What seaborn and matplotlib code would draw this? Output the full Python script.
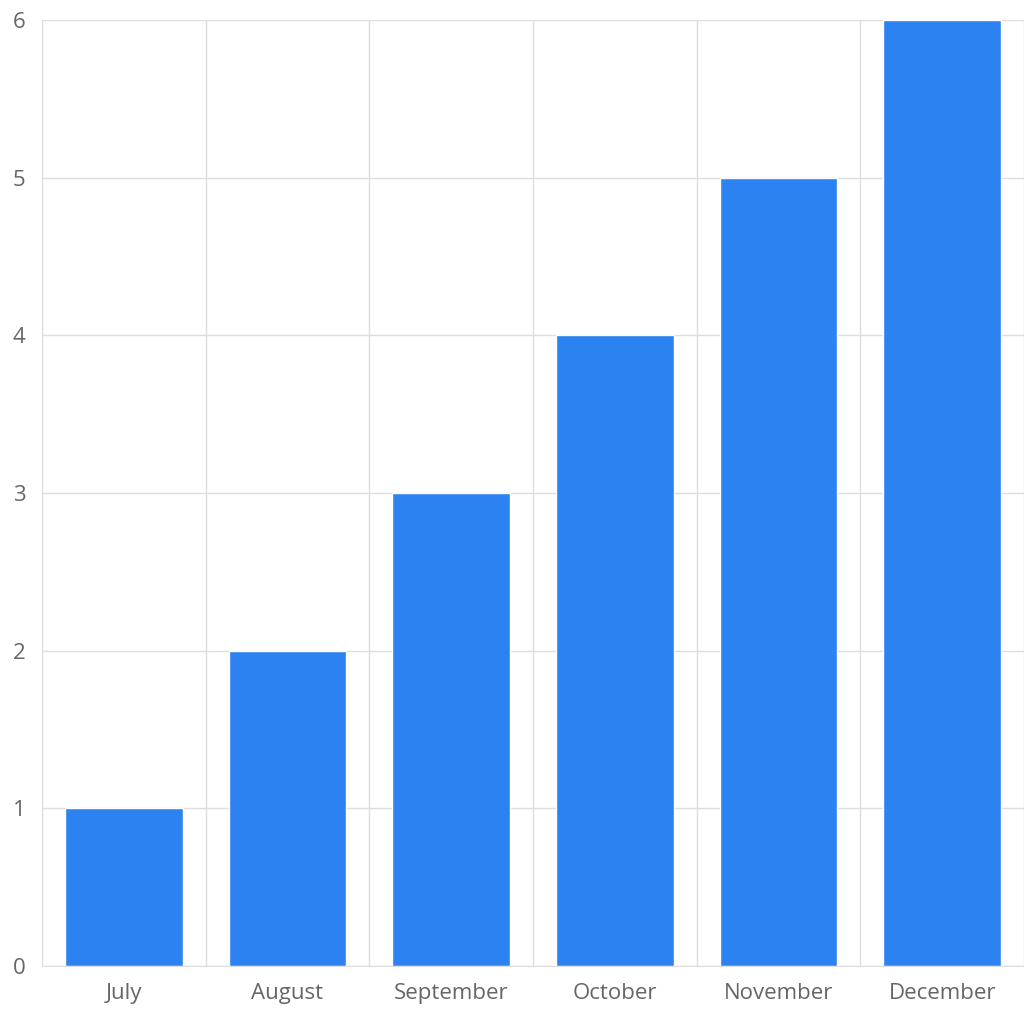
import matplotlib
matplotlib.use("Agg")
import matplotlib.pyplot as plt
import seaborn as sns
import numpy as np

months = ["July", "August", "September", "October", "November", "December"]
values = [1, 2, 3, 4, 5, 6]

sns.set_style("white")
plt.rcParams['font.family'] = ['Open Sans', 'DejaVu Sans']

fig = plt.figure(figsize=(10.24, 10.24), dpi=100)
ax = fig.add_axes([42/1024, 58/1024, 982/1024, 946/1024])
sns.barplot(x=months, y=values, color="#2d82f2", saturation=1, width=0.72, ax=ax)
ax.set_xlim(-0.5, len(months) - 0.5)
ax.set_ylim(0, 6)
ax.set_yticks(range(0, 7))
ax.set_xticks(np.arange(-0.5, len(months)), minor=True)
grid_c = "#dddddd"
ax.grid(True, which="minor", axis="x", color=grid_c, lw=1)
ax.grid(True, which="major", axis="y", color=grid_c, lw=1)
ax.set_axisbelow(True)
for s in ax.spines.values():
    s.set_visible(False)
ax.spines["bottom"].set_visible(True)
ax.spines["bottom"].set_color(grid_c)
ax.spines["left"].set_visible(True)
ax.spines["left"].set_color(grid_c)
ax.tick_params(axis="x", which="major", length=0, labelsize=16, labelcolor="#666666", pad=12)
ax.tick_params(axis="x", which="minor", length=16, color=grid_c)
ax.tick_params(axis="y", length=8, color=grid_c, labelsize=16, labelcolor="#666666", pad=4)
fig.savefig("out.png", dpi=100)
